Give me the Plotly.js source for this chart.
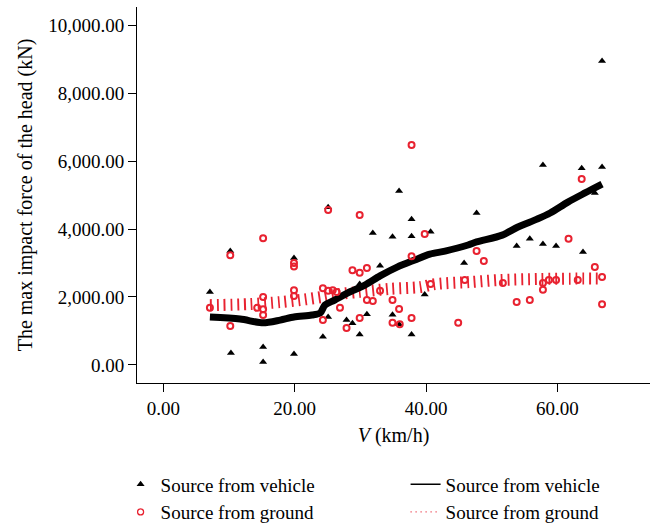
<!DOCTYPE html>
<html>
<head>
<meta charset="utf-8">
<script src="https://cdn.plot.ly/plotly-3.0.1.min.js"></script>
<style>html,body{margin:0;padding:0;background:#fff;}#chart{width:652px;height:526px;}</style>
</head>
<body>
<div id="chart"></div>
<script>
// Scatter: source from vehicle (V km/h, max impact force kN)
const vehicleV = [7.1, 10.2, 10.3, 15.2, 15.2, 19.9, 19.9, 24.3, 25.1, 25.1, 27.9, 28.8, 29.9, 31.0, 29.9, 33.0, 31.9, 34.9, 37.8, 37.8, 35.9, 40.7, 34.9, 35.9, 37.8, 39.8, 45.8, 47.7, 53.8, 55.8, 57.8, 59.8, 63.9, 57.8, 63.7, 66.8, 66.8, 65.7];
const vehicleF = [2150, 3350, 350, 530, 90, 3150, 320, 830, 1410, 4640, 1320, 1230, 900, 1490, 2380, 2920, 3880, 3770, 3790, 4290, 5120, 3920, 1480, 1200, 900, 2070, 3000, 4470, 3500, 3710, 3560, 3500, 3320, 5880, 5790, 5820, 8940, 5060];

// Scatter: source from ground
const groundV = [7.1, 10.2, 10.2, 15.2, 14.3, 15.2, 15.2, 15.2, 19.9, 19.9, 19.9, 19.9, 24.3, 24.3, 25.1, 25.8, 26.4, 26.9, 27.9, 28.8, 29.9, 31.0, 29.9, 31.0, 31.9, 33.0, 34.9, 35.9, 34.9, 36.0, 37.8, 37.8, 39.8, 40.7, 25.1, 29.9, 37.8, 47.7, 48.8, 45.9, 51.7, 53.8, 55.8, 57.8, 57.8, 58.7, 59.8, 44.9, 61.7, 63.1, 65.7, 66.8, 66.8, 63.7];
const groundF = [1680, 3230, 1150, 3730, 1680, 1640, 1470, 2000, 3000, 2900, 2200, 2030, 2260, 1320, 2180, 2200, 2150, 1680, 1090, 2790, 2710, 2850, 1380, 1910, 1880, 2180, 1910, 1650, 1240, 1200, 1380, 3200, 3850, 2380, 4560, 4410, 6470, 3350, 3060, 2500, 2410, 1850, 1910, 2410, 2210, 2500, 2500, 1240, 3710, 2500, 2880, 2590, 1790, 5470];

// Smoothed fit: source from vehicle
const fitVehicleV = [7.1, 11.7, 15.2, 17.8, 19.9, 22.6, 23.9, 24.6, 26.1, 28.1, 30.7, 33.0, 35.6, 38.3, 40.6, 42.9, 46.4, 47.7, 51.6, 54.0, 56.9, 58.9, 61.6, 64.2, 66.8];
const fitVehicleF = [1410, 1350, 1240, 1320, 1410, 1470, 1530, 1760, 1910, 2120, 2350, 2620, 2880, 3090, 3260, 3350, 3530, 3620, 3820, 4060, 4290, 4470, 4790, 5060, 5320];

// Smoothed fit: source from ground
const fitGroundV = [7.1, 13.2, 17.8, 20.8, 24.2, 26.9, 29.9, 34.5, 39.1, 41.4, 46.7, 51.3, 57.3, 61.9, 66.8];
const fitGroundF = [1760, 1790, 1850, 1910, 2000, 2090, 2150, 2240, 2290, 2380, 2440, 2500, 2530, 2540, 2540];

const xTicks = [0, 20, 40, 60];
const yTicks = [0, 2000, 4000, 6000, 8000, 10000];
const legendVehicle = 'Source from vehicle';
const legendGround = 'Source from ground';

const RED = 'rgb(232,34,48)';
const FONT = 'Liberation Serif, Times New Roman, serif';

const traces = [
  {x: fitGroundV, y: fitGroundF, mode: 'lines', showlegend: false, hoverinfo: 'skip',
   line: {color: RED, width: 12, dash: '1.8px,5px', shape: 'spline', smoothing: 0.8}},
  {x: fitVehicleV, y: fitVehicleF, mode: 'lines', showlegend: false, hoverinfo: 'skip',
   line: {color: 'black', width: 7, shape: 'spline', smoothing: 0.8}},
  {x: vehicleV, y: vehicleF, mode: 'markers', name: legendVehicle, showlegend: false,
   marker: {symbol: 'triangle-up', size: 7, color: 'black'}},
  {x: groundV, y: groundF, mode: 'markers', name: legendGround, showlegend: false,
   marker: {symbol: 'circle-open', size: 6, color: RED, line: {width: 2, color: RED}}},
  // legend entries
  {x: [null], y: [null], mode: 'markers', name: legendVehicle, legendrank: 1,
   marker: {symbol: 'triangle-up', size: 7, color: 'black'}},
  {x: [null], y: [null], mode: 'lines', name: legendVehicle, legendrank: 2,
   line: {color: 'black', width: 1.5}},
  {x: [null], y: [null], mode: 'markers', name: legendGround, legendrank: 3,
   marker: {symbol: 'circle-open', size: 6, color: RED, line: {width: 1.3, color: RED}}},
  {x: [null], y: [null], mode: 'lines', name: legendGround, legendrank: 4,
   line: {color: RED, width: 1.2, dash: '1px,4px'}}
];

const axisCommon = {
  showgrid: false, zeroline: false, showline: true, linecolor: 'black', linewidth: 1,
  ticks: 'outside', ticklen: 8, tickcolor: 'black', tickwidth: 1,
  tickfont: {family: FONT, size: 19, color: 'black'}
};

const layout = {
  width: 652, height: 526,
  margin: {l: 137, r: 2, t: 7, b: 143, autoexpand: false},
  paper_bgcolor: 'white', plot_bgcolor: 'white',
  font: {family: FONT, size: 19, color: 'black'},
  xaxis: Object.assign({}, axisCommon, {
    range: [-4.0, 74.1], tickvals: xTicks, tickformat: '.2f', automargin: false,
    title: {text: '<i>V</i> (km/h)', font: {family: FONT, size: 20, color: 'black'}, standoff: 10}
  }),
  yaxis: Object.assign({}, axisCommon, {
    range: [-530, 10530], tickvals: yTicks, tickformat: ',.2f', automargin: false,
    title: {text: 'The max impact force of the head (kN)', font: {family: FONT, size: 20, color: 'black'}, standoff: 10}
  }),
  showlegend: true,
  legend: {
    orientation: 'h', x: -0.032, y: -0.219, xanchor: 'left', yanchor: 'top',
    entrywidth: 240, entrywidthmode: 'pixels', traceorder: 'normal',
    font: {family: FONT, size: 19, color: 'black'}, bgcolor: 'rgba(0,0,0,0)'
  }
};

Plotly.newPlot('chart', traces, layout, {staticPlot: true, displayModeBar: false});
</script>
</body>
</html>
